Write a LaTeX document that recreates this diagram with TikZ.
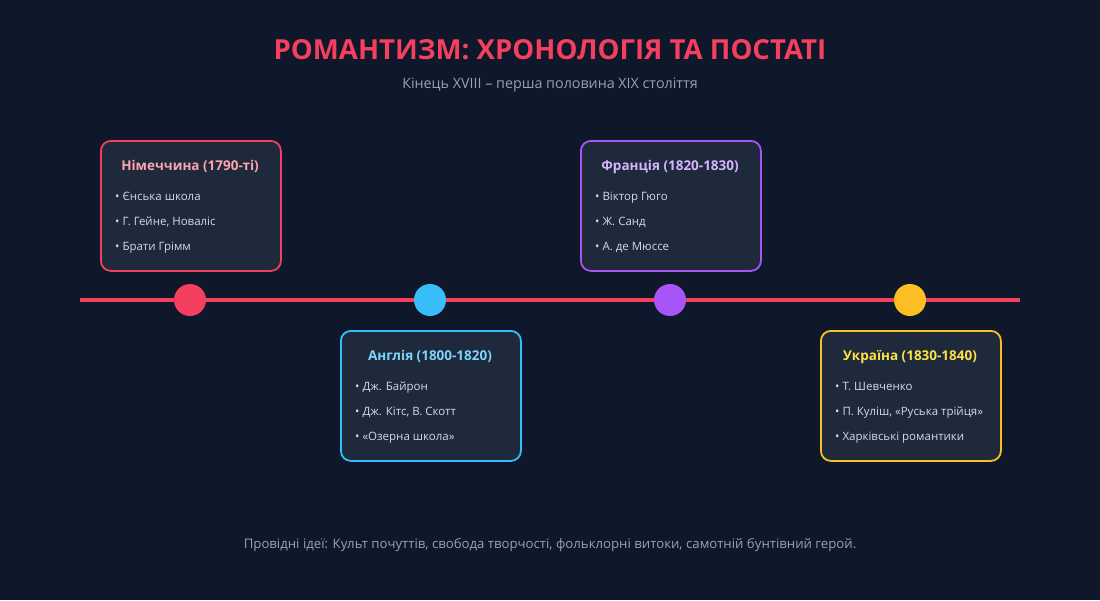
\documentclass[tikz,border=0pt]{standalone}
\usepackage{fontspec}
\setmainfont{Open Sans}
\usetikzlibrary{calc}
\definecolor{bgnavy}{RGB}{15,23,42}
\definecolor{boxfill}{RGB}{30,41,59}
\definecolor{roseline}{RGB}{244,63,94}
\definecolor{rosehead}{RGB}{253,164,175}
\definecolor{skyline}{RGB}{56,189,248}
\definecolor{skyhead}{RGB}{125,211,252}
\definecolor{violetline}{RGB}{168,85,247}
\definecolor{violethead}{RGB}{216,180,254}
\definecolor{amberline}{RGB}{251,191,36}
\definecolor{amberhead}{RGB}{253,224,71}
\definecolor{itemgray}{RGB}{210,218,230}
\definecolor{subgray}{RGB}{148,163,184}

\begin{document}
\begin{tikzpicture}[x=1pt,y=-1pt]

\tikzstyle{era_box} = [draw, rounded corners=10, line width=1.8, fill=boxfill,
minimum width=180, minimum height=130, inner sep=0, anchor=north west]
\tikzstyle{head_text} = [anchor=base, inner sep=0, font=\fontsize{13.5}{16}\selectfont\bfseries]
\tikzstyle{item_text} = [anchor=base west, inner sep=0, text=itemgray, font=\fontsize{11.5}{14}\selectfont]
\tikzstyle{dot} = [circle, inner sep=0, minimum size=32]

\fill[bgnavy] (0,0) rectangle (1100,600);
\useasboundingbox (0,0) rectangle (1100,600);

\node[inner sep=0, text=roseline, font=\fontsize{27.6}{32}\selectfont\bfseries] (title) at (550,50) {РОМАНТИЗМ: ХРОНОЛОГІЯ ТА ПОСТАТІ};
\node[inner sep=0, text=subgray, font=\fontsize{14.3}{17}\selectfont] (subtitle) at (550,85) {Кінець XVIII – перша половина XIX століття};

\coordinate (tl-start) at (80,300);
\coordinate (tl-end) at (1020,300);
\draw[roseline, line width=4] (tl-start) -- (tl-end);

\node[dot, fill=roseline] (de-dot) at (190,300) {};
\node[dot, fill=skyline] (en-dot) at (430,300) {};
\node[dot, fill=violetline] (fr-dot) at (670,300) {};
\node[dot, fill=amberline] (ua-dot) at (910,300) {};


\node[era_box, draw=roseline] (de-box) at (100,140) {};
\node[head_text, text=rosehead] (de-head) at (190,170) {Німеччина (1790-ті)};
\node[item_text] (de-i1) at (115,200.5) {• Єнська школа};
\node[item_text] (de-i2) at (115,225.5) {• Г. Гейне, Новаліс};
\node[item_text] (de-i3) at (115,250.5) {• Брати Грімм};

\node[era_box, draw=skyline] (en-box) at (340,330) {};
\node[head_text, text=skyhead] (en-head) at (430,360) {Англія (1800-1820)};
\node[item_text] (en-i1) at (355,390.5) {• Дж. Байрон};
\node[item_text] (en-i2) at (355,415.5) {• Дж. Кітс, В. Скотт};
\node[item_text] (en-i3) at (355,440.5) {• «Озерна школа»};

\node[era_box, draw=violetline] (fr-box) at (580,140) {};
\node[head_text, text=violethead] (fr-head) at (670,170) {Франція (1820-1830)};
\node[item_text] (fr-i1) at (595,200.5) {• Віктор Гюго};
\node[item_text] (fr-i2) at (595,225.5) {• Ж. Санд};
\node[item_text] (fr-i3) at (595,250.5) {• А. де Мюссе};

\node[era_box, draw=amberline] (ua-box) at (820,330) {};
\node[head_text, text=amberhead] (ua-head) at (910,360) {Україна (1830-1840)};
\node[item_text] (ua-i1) at (835,390.5) {• Т. Шевченко};
\node[item_text] (ua-i2) at (835,415.5) {• П. Куліш, «Руська трійця»};
\node[item_text] (ua-i3) at (835,440.5) {• Харківські романтики};


\node[inner sep=0, text=subgray, font=\fontsize{13.2}{16}\selectfont] (footer) at (550,545) {Провідні ідеї: Культ почуттів, свобода творчості, фольклорні витоки, самотній бунтівний герой.};

\end{tikzpicture}
\end{document}
